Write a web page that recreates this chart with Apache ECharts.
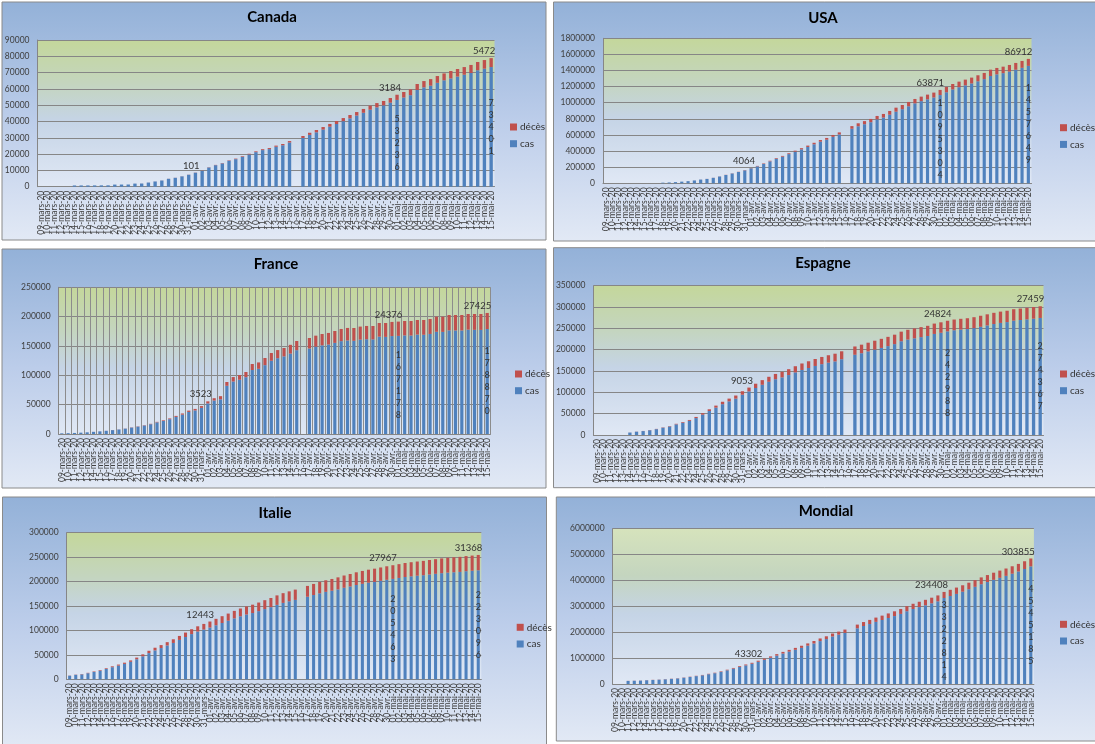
<!DOCTYPE html>
<html>
<head>
<meta charset="utf-8">
<script src="https://cdn.jsdelivr.net/npm/echarts@6.0.0/dist/echarts.min.js"></script>
<style>
html, body { margin: 0; padding: 0; background: #fff; }
#main { width: 1095px; height: 744px; }
</style>
</head>
<body>
<div id="main"></div>
<script>
var dates = ['09-mars-20','10-mars-20','11-mars-20','12-mars-20','13-mars-20','14-mars-20','15-mars-20','16-mars-20','17-mars-20','18-mars-20',
    '19-mars-20','20-mars-20','21-mars-20','22-mars-20','23-mars-20','24-mars-20','25-mars-20','26-mars-20','27-mars-20','28-mars-20',
    '29-mars-20','30-mars-20','31-mars-20',
    '01-avr.-20','02-avr.-20','03-avr.-20','04-avr.-20','05-avr.-20','06-avr.-20','07-avr.-20','08-avr.-20','09-avr.-20','10-avr.-20',
    '11-avr.-20','12-avr.-20','13-avr.-20','14-avr.-20','15-avr.-20','16-avr.-20','17-avr.-20','18-avr.-20','19-avr.-20','20-avr.-20',
    '21-avr.-20','22-avr.-20','23-avr.-20','24-avr.-20','25-avr.-20','26-avr.-20','27-avr.-20','28-avr.-20','29-avr.-20','30-avr.-20',
    '01-mai-20','02-mai-20','03-mai-20','04-mai-20','05-mai-20','06-mai-20','07-mai-20','08-mai-20','09-mai-20','10-mai-20',
    '11-mai-20','12-mai-20','13-mai-20','14-mai-20','15-mai-20'];

var canadaCas = [null,null,null,null,null, 760,780,790,800,820, 840,1300,1320,1350,1900, 1950,2550,3200,3800,4850,
    5450,6350,7320,8600,9700, 11800,13200,14300,15950,16900, 18350,19800,21200,22450,23050, 24490,25420,27100,null,29900,
    31790,33370,35040,36810,38470, 40190,41920,43650,45350,47230, 48670,49890,51540,53236,54710, 56130,59320,60950,61960,63730,
    65270,66430,67570,68700,69790, 71450,72400,73401];
var canadaDeces = [null,null,null,null,null, 1,1,1,4,8, 9,12,13,19,21, 25,26,35,39,54,
    61,64,89,101,109, 139,179,218,259,339, 375,407,503,557,654, 714,781,900,null,1195,
    1310,1433,1563,1690,1834, 1915,2075,2147,2350,2465, 2631,2707,2859,3184,3391, 3566,3682,3854,4043,4167,
    4232,4569,4628,4697,4906, 5049,5300,5472];

var usaCas = [null,null,null,null,null, null,null,null,null,7850, 10800,14700,20700,26600,35400, 46300,54100,67800,84400,103000,
    121600,140100,160600,186000,210900, 240900,272600,304500,330400,362100, 392300,421300,451300,484300,516400, 540900,576400,606200,null,677100,
    708200,733300,758400,793900,816200, 851400,889100,920100,956200,992100, 1019800,1042600,1065100,1095304,1130200, 1165300,1193000,1216200,1239700,1266200,
    1293100,1332200,1352500,1367300,1386600, 1409900,1433800,1457649];
var usaDeces = [null,null,null,null,null, null,null,null,null,150, 205,260,340,420,560, 700,940,1200,1580,2000,
    2400,2900,3400,4064,5100, 6100,7400,8450,9600,10900, 12700,14700,16700,18700,20600, 22100,23600,25800,null,32900,
    36800,38700,40600,42100,44800, 46600,49900,51900,53800,54900, 56200,58400,60900,63871,65800, 67700,69000,70800,72300,74800,
    76900,78800,79500,80700,82400, 84100,85200,86912];

var franceCas = [1126,1412,1784,2281,2876, 3661,4499,5423,6633,7730, 9134,10995,12612,14459,16689, 19856,22304,25233,29155,32964,
    37575,40174,44550,52128,56989, 59105,82100,89440,92420,96800, 109000,111100,117300,124800,129200, 132200,137000,142800,null,145700,
    148900,151100,152500,155300,158200, 159400,158800,160800,161500,161200, 165900,165500,166900,167178,168000, 167800,169400,169100,170500,174200,
    174000,176600,176500,176400,177900, 177500,177400,178870];
var franceDeces = [19,25,33,48,61, 79,91,127,148,175, 264,372,450,562,674, 860,1100,1331,1696,1995,
    2314,2606,3024,3523,4032, 5387,6507,7560,8078,8911, 10328,10869,12210,13197,13832, 14393,14967,15729,null,17920,
    18681,19323,19718,20265,20796, 21340,21856,22245,22614,22856, 23293,23660,24087,24376,24594, 24760,24895,25201,25531,25809,
    25987,26230,26310,26380,26643, 26991,27074,27425];

var espagneCas = [null,null,null,null,null, 5753,7753,9191,11178,13716, 17147,19980,24926,28572,33089, 39673,47610,56188,64059,72248,
    78797,85195,94417,102136,110238, 117710,124736,130759,135032,140510, 146690,152446,157022,161852,166019, 169496,172541,177633,null,188068,
    191726,195944,200210,204178,208389, 213024,219764,223759,226629,229422, 232128,236899,239639,242988,245567, 247122,248301,250561,253682,256855,
    260117,262783,264663,268143,269520, 271095,272646,274367];
var espagneDeces = [null,null,null,null,null, 136,288,309,491,598, 767,1002,1326,1720,2182, 2696,3434,4089,4858,5690,
    6528,7340,8189,9053,10003, 10935,11744,12418,13055,13798, 14555,15238,15843,16353,16972, 17489,18056,18579,null,19478,
    20043,20453,20852,21282,21717, 22157,22524,22902,23190,23521, 23822,24275,24543,24824,25100, 25264,25428,25613,25857,26070,
    26299,26478,26621,26744,26920, 27104,27321,27459];

var italieCas = [7375,9172,10149,12462,15113, 17660,21157,24747,27980,31506, 35713,41035,47021,53578,59138, 63927,69176,74386,80589,86498,
    92472,97689,101739,105792,110574, 115242,119827,124632,128948,132547, 135586,139422,143626,147577,152271, 156363,159516,162488,null,168941,
    172434,175925,178972,181228,183957, 187327,189973,192994,195351,197675, 199414,201505,203591,205463,207428, 209328,210717,211938,213013,214457,
    215858,217185,218268,219070,219814, 221216,222104,223096];
var italieDeces = [366,463,631,827,1016, 1266,1441,1809,2158,2503, 2978,3405,4032,4825,5476, 6077,6820,7503,8165,9134,
    10023,10779,11591,12443,13155, 13915,14681,15362,15887,16523, 17127,17669,18279,18849,19468, 19899,20465,21067,null,22170,
    22745,23227,23660,24114,24648, 25085,25549,25969,26384,26644, 26977,27359,27682,27967,28236, 28710,28884,29079,29315,29684,
    29958,30201,30395,30560,30739, 30911,31106,31368];

var mondialCas = [null,null,118000,125000,132000, 145000,156000,167000,181000,197000, 214000,242000,272000,304000,336000, 378000,417000,467000,529000,593000,
    660000,720000,782000,857000,932000, 1013000,1095000,1176000,1249000,1321000, 1396000,1480000,1565000,1657000,1735000, 1835000,1905000,1976000,null,2152000,
    2240000,2317000,2401000,2472000,2549000, 2624000,2708000,2811000,2897000,2971000, 3041000,3117000,3194000,3322814,3400000, 3481000,3566000,3662000,3755000,3855000,
    3939000,4024000,4101000,4178000,4261000, 4347000,4444000,4545185];
var mondialDeces = [null,null,4300,4600,4900, 5400,5800,6500,7100,7900, 8800,10000,11300,13000,14600, 16500,18600,21200,23900,27200,
    30600,33900,37500,43302,47200, 53200,58800,64600,69400,74600, 81900,88300,95500,102500,108500, 114100,119500,126600,null,142900,
    153600,159500,165000,169900,177400, 184200,190900,197200,202800,206500, 211200,217700,228200,234408,239600, 244900,248500,252000,256900,263800,
    270400,275900,280100,283700,287400, 292900,298100,303855];

// points qui portent une etiquette
var decesLabels = [23, 53, 67];
var casLabels = [53, 67];

var panels = [
    {titre: 'Canada', cas: canadaCas, deces: canadaDeces, max: 90000, pas: 10000,
     box: [2, 2, 544, 238], grid: [37.5, 40, 457, 146.7], titre_xy: [272, 19], leg: [510, 127], vgrid: false, vert: '#c4d79b'},
    {titre: 'USA', cas: usaCas, deces: usaDeces, max: 1800000, pas: 200000,
     box: [553.5, 2, 545, 239], grid: [603, 38.3, 428.5, 145], titre_xy: [823, 19.5], leg: [1060, 127.7], vgrid: false, vert: '#c4d79b'},
    {titre: 'France', cas: franceCas, deces: franceDeces, max: 250000, pas: 50000,
     box: [2, 249, 544, 239], grid: [58.6, 287.3, 431.8, 146.7], titre_xy: [276, 266], leg: [515, 374], vgrid: true, vert: '#c4d79b'},
    {titre: 'Espagne', cas: espagneCas, deces: espagneDeces, max: 350000, pas: 50000,
     box: [553.5, 247.7, 545, 240], grid: [593.5, 285.7, 450, 149.3], titre_xy: [823, 265], leg: [1060, 374], vgrid: false, vert: '#c4d79b'},
    {titre: 'Italie', cas: italieCas, deces: italieDeces, max: 300000, pas: 50000,
     box: [2.5, 497, 544, 252], grid: [66.6, 532.7, 414.7, 146.6], titre_xy: [275, 515], leg: [516.7, 627.3], vgrid: false, vert: '#c4d79b'},
    {titre: 'Mondial', cas: mondialCas, deces: mondialDeces, max: 6000000, pas: 1000000,
     box: [556.3, 497, 545, 244], grid: [612.6, 528.7, 421.3, 155.3], titre_xy: [826, 513], leg: [1060, 624.3], vgrid: false, vert: '#d6e3bc'}
];

var police = 'Lato, "Liberation Sans", sans-serif';
var gris = '#868686';

function fondPanneau() {
    return new echarts.graphic.LinearGradient(0, 0, 0, 1, [
        {offset: 0, color: '#93b1d8'},
        {offset: 0.5, color: '#bccdea'},
        {offset: 1, color: '#e2e9f5'}
    ]);
}

function fondTraceur(vert) {
    return new echarts.graphic.LinearGradient(0, 0, 0, 1, [
        {offset: 0, color: vert},
        {offset: 0.3, color: '#c4d5bf'},
        {offset: 0.55, color: '#c5d4e6'},
        {offset: 1, color: '#e0e8f5'}
    ]);
}

var option = {
    animation: false,
    backgroundColor: '#ffffff',
    graphic: [],
    title: [],
    legend: [],
    grid: [],
    xAxis: [],
    yAxis: [],
    series: []
};

panels.forEach(function (p, k) {
    option.graphic.push({
        type: 'rect', silent: true, z: -10,
        shape: {x: p.box[0], y: p.box[1], width: p.box[2], height: p.box[3]},
        style: {fill: fondPanneau(), stroke: '#8a8a8a', lineWidth: 1}
    });
    option.title.push({
        text: p.titre, left: p.titre_xy[0], top: p.titre_xy[1] - 9, textAlign: 'center', padding: 0,
        textStyle: {fontFamily: police, fontWeight: 'bold', fontSize: 15, color: '#000'}
    });
    option.legend.push({
        data: ['décès', 'cas'], orient: 'vertical', left: p.leg[0], top: p.leg[1] - 5,
        icon: 'rect', itemWidth: 7, itemHeight: 7, itemGap: 6.7, padding: 0, selectedMode: false,
        textStyle: {fontFamily: police, fontSize: 10, lineHeight: 10, color: '#333', padding: [0, 0, 0, -2]}
    });
    option.grid.push({
        left: p.grid[0], top: p.grid[1], width: p.grid[2], height: p.grid[3],
        show: true, backgroundColor: fondTraceur(p.vert), borderWidth: 0
    });
    option.xAxis.push({
        type: 'category', gridIndex: k, data: dates,
        axisLine: {lineStyle: {color: gris}},
        axisTick: {show: false},
        splitLine: {show: p.vgrid, lineStyle: {color: '#8c8c8c'}},
        axisLabel: {interval: 0, rotate: 90, fontSize: 8.5, color: '#404040', margin: 4, fontFamily: police}
    });
    option.yAxis.push({
        type: 'value', gridIndex: k, min: 0, max: p.max, interval: p.pas,
        axisLine: {show: true, lineStyle: {color: gris}},
        axisTick: {show: false},
        splitLine: {lineStyle: {color: gris}},
        axisLabel: {
            fontSize: 8.5, color: '#404040', margin: 8, fontFamily: police,
            formatter: function (v) { return String(v); }
        }
    });
    option.series.push({
        name: 'cas', type: 'bar', stack: 'pile' + k, xAxisIndex: k, yAxisIndex: k,
        data: p.cas, barWidth: '50%', itemStyle: {color: '#4f81bd'},
        label: {
            show: true, position: 'inside', fontFamily: police, fontSize: 9, lineHeight: 12,
            color: '#333', textBorderWidth: 0,
            formatter: function (pr) {
                return casLabels.indexOf(pr.dataIndex) >= 0 ? String(pr.value).split('').join('\n') : '';
            }
        }
    });
    option.series.push({
        name: 'décès', type: 'bar', stack: 'pile' + k, xAxisIndex: k, yAxisIndex: k,
        data: p.deces, barWidth: '50%', itemStyle: {color: '#c0504d'},
        label: {
            show: true, position: 'top', distance: 2, align: 'right', offset: [4, 0],
            fontFamily: police, fontSize: 9.5, color: '#333',
            formatter: function (pr) {
                return decesLabels.indexOf(pr.dataIndex) >= 0 ? String(pr.value) : '';
            }
        }
    });
});

var chart = echarts.init(document.getElementById('main'));
chart.setOption(option);
</script>
</body>
</html>
